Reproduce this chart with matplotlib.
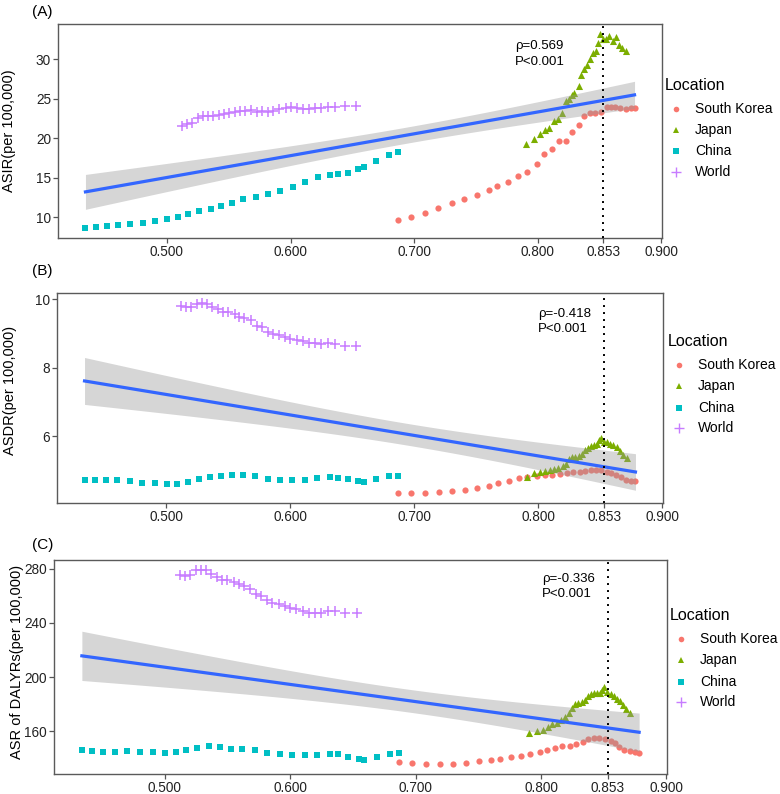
import numpy as np
import matplotlib
matplotlib.use('Agg')
import matplotlib.pyplot as plt
from matplotlib.lines import Line2D

plt.rcParams['font.family'] = ['Liberation Sans', 'DejaVu Sans']

# SDI (x) per location
sdi_korea = [0.6866, 0.6975, 0.7084, 0.7195, 0.7302, 0.7405, 0.7504, 0.7601, 0.7673, 0.7762,
             0.7843, 0.7911, 0.7991, 0.8050, 0.8112, 0.8171, 0.8230, 0.8279, 0.8333, 0.8373,
             0.8421, 0.8462, 0.8508, 0.8556, 0.8588, 0.8624, 0.8664, 0.8709, 0.8750, 0.8782]
sdi_japan = [0.7905, 0.7966, 0.8015, 0.8054, 0.8090, 0.8127, 0.8160, 0.8195, 0.8224, 0.8249,
             0.8274, 0.8295, 0.8330, 0.8352, 0.8377, 0.8399, 0.8421, 0.8446, 0.8468, 0.8489,
             0.8503, 0.8529, 0.8554, 0.8578, 0.8605, 0.8631, 0.8654, 0.8680, 0.8710]
sdi_china = [0.4341, 0.4425, 0.4513, 0.4605, 0.4704, 0.4804, 0.4906, 0.5002, 0.5089, 0.5172,
             0.5261, 0.5353, 0.5441, 0.5530, 0.5619, 0.5718, 0.5817, 0.5917, 0.6017, 0.6119,
             0.6218, 0.6318, 0.6385, 0.6463, 0.6547, 0.6592, 0.6694, 0.6797, 0.6866]
sdi_world = [0.512, 0.516, 0.520, 0.525, 0.529, 0.533, 0.537, 0.542, 0.546, 0.550,
             0.555, 0.559, 0.563, 0.568, 0.573, 0.577, 0.582, 0.586, 0.591, 0.596,
             0.600, 0.605, 0.610, 0.615, 0.620, 0.625, 0.630, 0.636, 0.644, 0.653]

# (A) ASIR
asir_korea = [9.57, 10.07, 10.58, 11.16, 11.75, 12.30, 12.84, 13.43, 13.89, 14.48,
              15.19, 15.73, 16.70, 17.96, 18.63, 19.63, 19.68, 20.81, 21.73, 22.78,
              23.16, 23.24, 23.36, 23.91, 23.99, 23.91, 23.83, 23.70, 23.83, 23.78]
asir_japan = [19.21, 19.88, 20.56, 21.06, 21.27, 22.15, 22.40, 23.16, 24.75, 25.04,
              25.46, 25.80, 26.64, 28.02, 28.73, 29.23, 30.07, 30.83, 31.12, 32.09,
              33.26, 32.63, 32.63, 32.92, 32.38, 32.84, 31.88, 31.46, 31.04]
asir_china = [8.58, 8.74, 8.83, 8.99, 9.12, 9.21, 9.50, 9.71, 9.96, 10.34,
              10.72, 11.04, 11.38, 11.76, 12.26, 12.60, 12.89, 13.36, 13.86, 14.40,
              15.07, 15.37, 15.41, 15.62, 16.13, 16.29, 17.13, 17.89, 18.30]
asir_world = [21.50, 21.75, 21.92, 22.58, 22.79, 22.79, 22.79, 23.00, 23.08, 23.17,
              23.29, 23.42, 23.46, 23.63, 23.38, 23.42, 23.33, 23.50, 23.71, 23.83,
              23.92, 23.83, 23.71, 23.71, 23.79, 23.83, 23.92, 23.96, 24.08, 24.13]

# (B) ASDR
asdr_korea = [4.334, 4.334, 4.343, 4.363, 4.40, 4.44, 4.49, 4.54, 4.63, 4.70,
              4.78, 4.80, 4.83, 4.86, 4.875, 4.91, 4.945, 4.96, 4.974, 5.00,
              5.01, 5.02, 5.01, 4.974, 4.924, 4.866, 4.81, 4.74, 4.70, 4.69]
asdr_japan = [4.817, 4.924, 4.974, 4.991, 5.012, 5.061, 5.090, 5.128, 5.186, 5.352,
              5.398, 5.410, 5.427, 5.497, 5.602, 5.672, 5.718, 5.759, 5.776, 5.884,
              5.951, 5.846, 5.846, 5.788, 5.747, 5.701, 5.573, 5.468, 5.381]
asdr_china = [4.74, 4.74, 4.72, 4.72, 4.69, 4.64, 4.64, 4.61, 4.62, 4.67,
              4.75, 4.80, 4.84, 4.87, 4.88, 4.84, 4.76, 4.73, 4.73, 4.74,
              4.79, 4.81, 4.78, 4.75, 4.71, 4.68, 4.77, 4.83, 4.85]
asdr_world = [9.82, 9.79, 9.79, 9.88, 9.91, 9.86, 9.77, 9.72, 9.64, 9.64,
              9.57, 9.50, 9.46, 9.39, 9.23, 9.21, 9.06, 8.99, 8.95, 8.90,
              8.85, 8.83, 8.79, 8.74, 8.72, 8.71, 8.74, 8.70, 8.65, 8.64]

# (C) ASR of DALYs
daly_korea = [136.9, 136.2, 135.7, 135.5, 135.5, 136.2, 137.7, 138.6, 139.4, 140.6,
              141.8, 142.8, 144.3, 146.0, 147.2, 149.0, 149.0, 150.4, 152.1, 154.1,
              154.6, 154.6, 153.9, 152.6, 151.4, 148.4, 146.0, 145.3, 144.8, 143.6]
daly_japan = [158.3, 160.0, 161.2, 163.2, 164.9, 166.1, 168.1, 170.5, 173.5, 177.2,
              179.7, 180.9, 181.6, 182.8, 185.8, 187.8, 188.2, 188.5, 188.3, 190.2,
              192.6, 189.0, 187.5, 186.0, 184.0, 182.0, 179.5, 176.7, 173.5]
daly_china = [146.0, 145.5, 144.5, 144.5, 145.0, 144.3, 144.5, 143.8, 144.5, 146.0,
              147.7, 148.7, 148.0, 147.0, 147.0, 146.0, 143.8, 142.8, 142.6, 142.1,
              142.3, 142.8, 142.8, 140.6, 139.6, 138.9, 141.1, 142.8, 144.0]
daly_world = [275.1, 274.4, 275.1, 278.8, 279.3, 278.8, 275.8, 273.9, 271.9, 271.9,
              269.9, 269.0, 267.5, 265.3, 261.6, 260.1, 256.7, 254.7, 253.7, 252.5,
              251.0, 250.6, 248.8, 247.4, 247.4, 247.6, 248.6, 248.8, 247.6, 247.6]

locations = ['South Korea', 'Japan', 'China', 'World']
colors = ['#F8766D', '#7CAE00', '#00BFC4', '#C77CFF']
markers = ['o', '^', 's', '+']
sizes = [20, 26, 20, 55]

xticks = [0.5, 0.6, 0.7, 0.8, 0.853, 0.9]
xticklabels = ['0.500', '0.600', '0.700', '0.800', '0.853', '0.900']

W, H = 780, 794
def fx(px): return px / W
def fy(py): return 1 - py / H

fig = plt.figure(figsize=(7.8, 7.94), dpi=100)

panels = [
    dict(tag='(A)', ylab='ASIR(per 100,000)', ys=[asir_korea, asir_japan, asir_china, asir_world],
         yticks=[10, 15, 20, 25, 30], rho=('ρ=0.569', 'P<0.001'),
         box=(58, 662, 24, 238), tagy=12, laby=131, labx=9, txt=(515, 46, 62),
         leg=(665, 85, 676, 695, [109, 130, 151, 172])),
    dict(tag='(B)', ylab='ASDR(per 100,000)', ys=[asdr_korea, asdr_japan, asdr_china, asdr_world],
         yticks=[6, 8, 10], rho=('ρ=-0.418', 'P<0.001'),
         box=(57, 663, 293, 503), tagy=271, laby=390, labx=10, txt=(538, 314, 329),
         leg=(668, 341, 679, 698, [365, 386, 408, 428])),
    dict(tag='(C)', ylab='ASR of DALYRs(per 100,000)', ys=[daly_korea, daly_japan, daly_china, daly_world],
         yticks=[160, 200, 240, 280], rho=('ρ=-0.336', 'P<0.001'),
         box=(54, 667, 560, 774), tagy=545, laby=662, labx=17, txt=(542, 579, 594),
         leg=(670, 615, 681, 700, [639, 660, 682, 702])),
]

xs = [sdi_korea, sdi_japan, sdi_china, sdi_world]

for p in panels:
    l, r, t, b = p['box']
    ax = fig.add_axes([fx(l), fy(b), (r - l) / W, (b - t) / H])

    for x, y, c, m, s in zip(xs, p['ys'], colors, markers, sizes):
        if m == '+':
            ax.scatter(x, y, s=s, marker=m, color=c, linewidths=1.1, zorder=2)
        else:
            ax.scatter(x, y, s=s, marker=m, color=c, linewidths=0, zorder=2)

    # linear fit with 95% CI (geom_smooth style)
    allx = np.concatenate([np.asarray(v, float) for v in xs])
    ally = np.concatenate([np.asarray(v, float) for v in p['ys']])
    n = len(allx)
    slope, icpt = np.polyfit(allx, ally, 1)
    resid = ally - (slope * allx + icpt)
    s_err = np.sqrt(np.sum(resid ** 2) / (n - 2))
    xbar = allx.mean()
    sxx = np.sum((allx - xbar) ** 2)
    gx = np.linspace(allx.min(), allx.max(), 100)
    gy = slope * gx + icpt
    se = s_err * np.sqrt(1 / n + (gx - xbar) ** 2 / sxx)
    tval = 1.98
    ax.fill_between(gx, gy - tval * se, gy + tval * se, color='#999999', alpha=0.4,
                    linewidth=0, zorder=3)
    ax.plot(gx, gy, color='#3366FF', lw=2.3, zorder=4)

    ax.axvline(0.853, color='black', lw=1.4, linestyle=(0, (1, 2.6)), zorder=5)

    rng = allx.max() - allx.min()
    ax.set_xlim(allx.min() - 0.05 * rng, allx.max() + 0.05 * rng)
    lo = min(ally.min(), (gy - tval * se).min())
    hi = max(ally.max(), (gy + tval * se).max())
    yr = hi - lo
    ax.set_ylim(lo - 0.05 * yr, hi + 0.05 * yr)

    ax.set_xticks(xticks)
    ax.set_xticklabels(xticklabels)
    ax.set_yticks(p['yticks'])
    ax.tick_params(direction='out', length=3.5, width=0.9, color='#555555',
                   labelsize=9.8, labelcolor='#222222', pad=1.5)
    for sp in ax.spines.values():
        sp.set_color('#5a5a5a')
        sp.set_linewidth(1.0)

    fig.text(fx(32), fy(p['tagy']), p['tag'], fontsize=11, va='center', ha='left')
    fig.text(fx(p['labx']), fy(p['laby']), p['ylab'], fontsize=10.5, rotation=90,
             va='center', ha='center')
    tx0, ty1, ty2 = p['txt']
    fig.text(fx(tx0), fy(ty1), p['rho'][0], fontsize=9.5, va='center', ha='left')
    fig.text(fx(tx0), fy(ty2), p['rho'][1], fontsize=9.5, va='center', ha='left')

    # legend
    tx, ty, mx, lx, rows = p['leg']
    fig.text(fx(tx), fy(ty), 'Location', fontsize=11.5, va='center', ha='left')
    for ry, lab, c, m, s in zip(rows, locations, colors, markers, sizes):
        if m == '+':
            fig.add_artist(Line2D([fx(mx)], [fy(ry)], transform=fig.transFigure, marker=m,
                                  color=c, markersize=6.5, markeredgewidth=1.0, linestyle='none'))
        else:
            fig.add_artist(Line2D([fx(mx)], [fy(ry)], transform=fig.transFigure, marker=m,
                                  color=c, markersize=np.sqrt(s) * 0.9, markeredgewidth=0,
                                  linestyle='none'))
        fig.text(fx(lx), fy(ry), lab, fontsize=10, va='center', ha='left')

fig.savefig('out.png', dpi=100)
